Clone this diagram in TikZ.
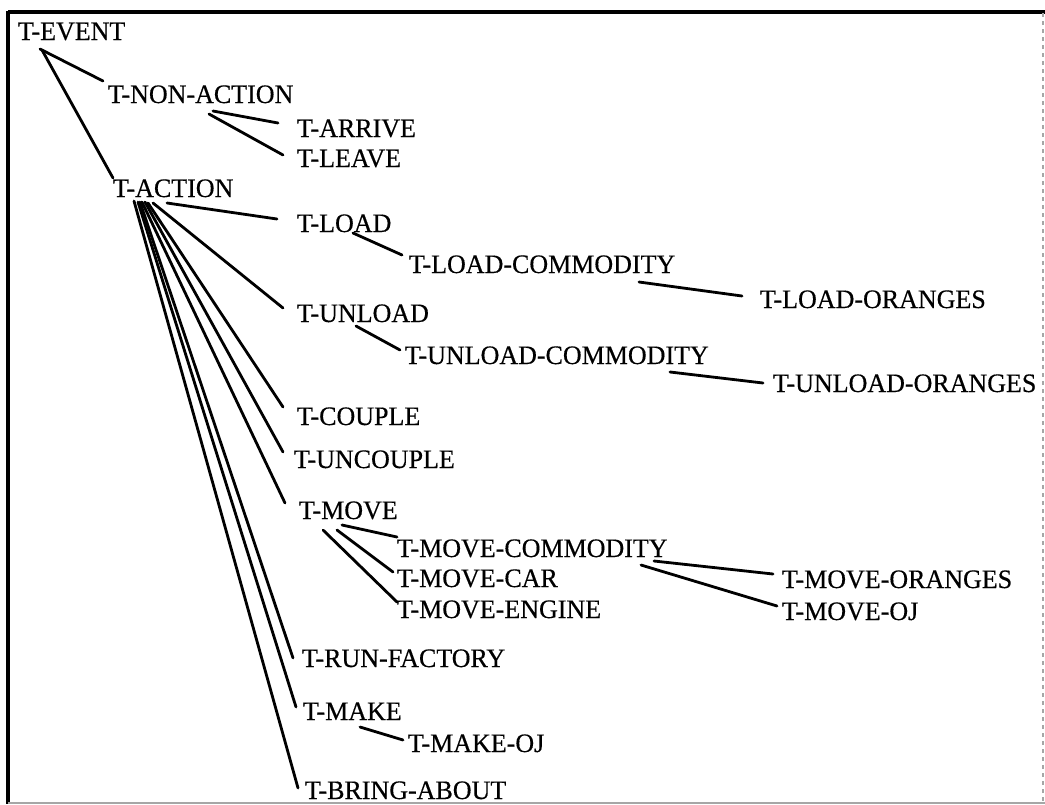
\documentclass[tikz,border=0pt]{standalone}
\usepackage{fontspec}
\setmainfont{Liberation Serif}[FakeStretch=0.975,FakeBold=0.4]
\usetikzlibrary{calc}
\newcommand{\linkto}[6]{\draw[conn] ($(#1.base west)+(#2,#3)$) -- ($(#4.base west)+(#5,#6)$);}
\begin{document}
\begin{tikzpicture}[x=0.75pt,y=-0.75pt,
  lab/.style={anchor=base west,inner sep=0pt,outer sep=0pt,font=\fontsize{20}{24}\selectfont},
  conn/.style={line width=2.1pt,line cap=round},
  frameline/.style={line width=2.4pt,black},
  faintline/.style={line width=1pt,black!35}]
\useasboundingbox (0,0) rectangle (1045,804);
% frame
\draw[frameline] (8,12) -- (1045,12);
\draw[frameline] (8,11) -- (8,804);
\draw[faintline,dashed] (1043,13) -- (1043,804);
\draw[faintline] (8,803) -- (1045,803);
% nodes
\node[lab] (event) at (18,40) {T-EVENT};
\node[lab] (nonaction) at (108,103) {T-NON-ACTION};
\node[lab] (arrive) at (297,137) {T-ARRIVE};
\node[lab] (leave) at (297,167) {T-LEAVE};
\node[lab] (action) at (113,197) {T-ACTION};
\node[lab] (load) at (297,232) {T-LOAD};
\node[lab] (loadc) at (409,273) {T-LOAD-COMMODITY};
\node[lab] (loado) at (760,308) {T-LOAD-ORANGES};
\node[lab] (unload) at (297,322) {T-UNLOAD};
\node[lab] (unloadc) at (405,364) {T-UNLOAD-COMMODITY};
\node[lab] (unloado) at (773,392) {T-UNLOAD-ORANGES};
\node[lab] (couple) at (297,425) {T-COUPLE};
\node[lab] (uncouple) at (294,468) {T-UNCOUPLE};
\node[lab] (move) at (299,519) {T-MOVE};
\node[lab] (movec) at (397,557) {T-MOVE-COMMODITY};
\node[lab] (movecar) at (397,587) {T-MOVE-CAR};
\node[lab] (moveeng) at (397,618) {T-MOVE-ENGINE};
\node[lab] (moveo) at (782,588) {T-MOVE-ORANGES};
\node[lab] (moveoj) at (782,620) {T-MOVE-OJ};
\node[lab] (runf) at (302,667) {T-RUN-FACTORY};
\node[lab] (make) at (303,720) {T-MAKE};
\node[lab] (makeoj) at (408,752) {T-MAKE-OJ};
\node[lab] (bring) at (305,799) {T-BRING-ABOUT};
% connectors
\linkto{event}{22}{9}{nonaction}{-5}{-22}
\linkto{event}{24}{10}{action}{0}{-19}
\linkto{nonaction}{105}{8}{arrive}{-19}{-14}
\linkto{nonaction}{101}{11}{leave}{-14}{-12}
\linkto{action}{54}{6}{load}{-20}{-13}
\linkto{action}{40}{6}{unload}{-14}{-14}
\linkto{action}{35}{6}{couple}{-14}{-18}
\linkto{action}{32}{5}{uncouple}{-11}{-16}
\linkto{action}{29}{5}{move}{-14}{-16}
\linkto{action}{27}{5}{runf}{-9}{-9}
\linkto{action}{25}{5}{make}{-7}{-13}
\linkto{action}{21}{4}{bring}{-7}{-11}
\linkto{load}{56}{1}{loadc}{-7}{-18}
\linkto{loadc}{230}{9}{loado}{-18}{-12}
\linkto{unload}{59}{4}{unloadc}{-5}{-14}
\linkto{unloadc}{265}{8}{unloado}{-10}{-9}
\linkto{move}{43}{6}{movec}{0}{-20}
\linkto{move}{38}{11}{movecar}{-4}{-15}
\linkto{move}{24}{11}{moveeng}{0}{-16}
\linkto{movec}{257}{4}{moveo}{-9}{-14}
\linkto{movec}{244}{8}{moveoj}{-5}{-14}
\linkto{make}{57}{7}{makeoj}{-5}{-12}
\end{tikzpicture}
\end{document}
